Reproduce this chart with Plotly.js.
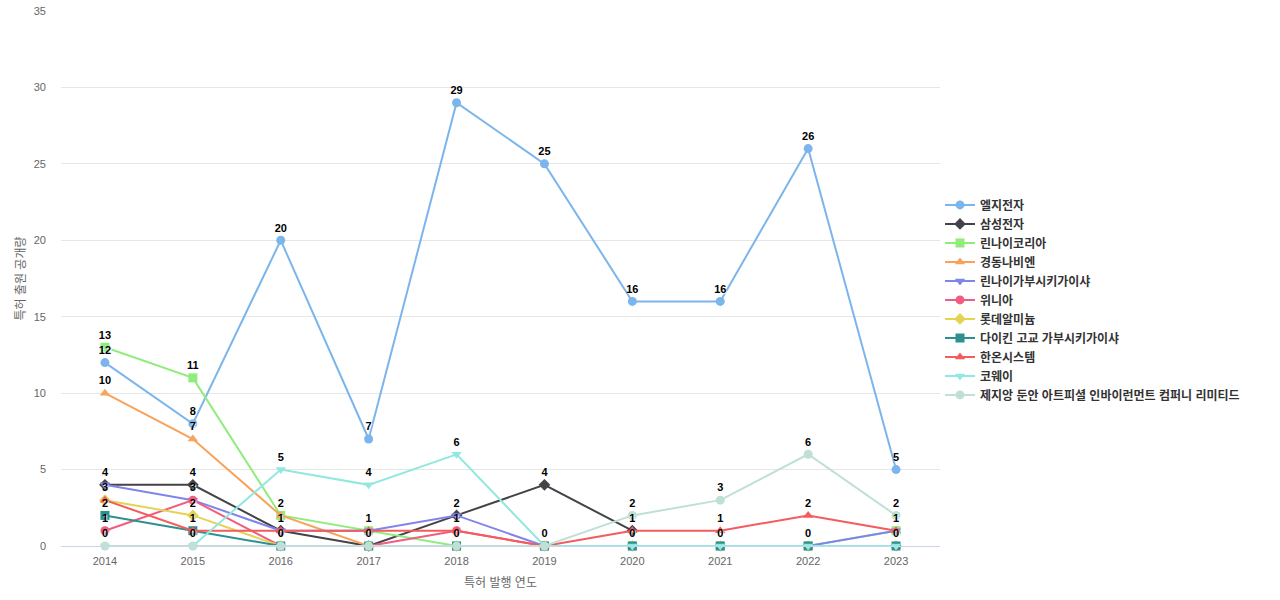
<!DOCTYPE html>
<html>
<head>
<meta charset="utf-8">
<script src="https://cdn.plot.ly/plotly-3.0.1.min.js"></script>
<style>
  html, body { margin: 0; padding: 0; background: #fff; }
  #chart { width: 1280px; height: 600px; }
</style>
</head>
<body>
<div id="chart"></div>
<script>
const years = ["2014", "2015", "2016", "2017", "2018", "2019", "2020", "2021", "2022", "2023"];

const lgElec      = [12, 8, 20, 7, 29, 25, 16, 16, 26, 5];
const samsung     = [4, 4, 1, 0, 2, 4, 1, null, null, null];
const rinnaiKorea = [13, 11, 2, 1, 0, 0, 0, 0, 0, 1];
const kdNavien    = [10, 7, 2, 0, 0, 0, 0, 0, 0, 0];
const rinnaiJp    = [4, 3, 1, 1, 2, 0, 0, 0, 0, 1];
const winia       = [1, 3, 0, 0, 1, 0, 0, 0, 0, 0];
const lotteAlu    = [3, 2, 0, 0, 0, 0, 0, 0, 0, 0];
const daikin      = [2, 1, 0, 0, 0, 0, 0, 0, 0, 0];
const hanon       = [3, 1, 1, 1, 1, 0, 1, 1, 2, 1];
const coway       = [0, 0, 5, 4, 6, 0, 0, 0, 0, 0];
const zhejiang    = [0, 0, 0, 0, 0, 0, 2, 3, 6, 2];

const seriesNames = ["엘지전자", "삼성전자", "린나이코리아", "경동나비엔", "린나이가부시키가이샤",
    "위니아", "롯데알미늄", "다이킨 고교 가부시키가이샤", "한온시스템", "코웨이",
    "제지앙 둔안 아트피셜 인바이런먼트 컴퍼니 리미티드"];
const seriesData = [lgElec, samsung, rinnaiKorea, kdNavien, rinnaiJp, winia, lotteAlu, daikin, hanon, coway, zhejiang];

const colors = ["#7cb5ec", "#434348", "#90ed7d", "#f7a35c", "#8085e9", "#f15c80",
    "#e4d354", "#2b908f", "#f45b5b", "#91e8e1", "#bfe0d4"];
const symbols = ["circle", "diamond", "square", "triangle-up", "triangle-down"];

const FONT = "'Liberation Sans', Arial, 'Noto Sans CJK KR', sans-serif";

const lineTraces = seriesNames.map((name, i) => ({
    type: "scatter",
    mode: "lines+markers",
    name: name,
    x: years,
    y: seriesData[i],
    line: { color: colors[i], width: 2 },
    marker: { color: colors[i], symbol: symbols[i % symbols.length], size: 9 },
    cliponaxis: false,
    hoverinfo: "x+y+name"
}));

// value labels go in their own traces, after every line, so no later line covers them.
// one label per (year, value): stacked copies of the same number look heavier than the original
const seen = {};
const labelTraces = seriesNames.map((name, i) => {
    const vals = seriesData[i];
    const labels = vals.map((v, j) => {
        if (v === null) return "";
        const key = j + ":" + v;
        if (seen[key]) return "";
        seen[key] = true;
        return String(v);
    });
    return {
        type: "scatter",
        mode: "markers+text",
        name: name,
        x: years,
        y: vals,
        text: labels,
        textposition: "top center",
        textfont: { family: FONT, size: 11, color: "#000", weight: "bold", shadow: "1px 1px 1px #fff" },
        marker: { size: 8, opacity: 0 },
        cliponaxis: false,
        showlegend: false,
        hoverinfo: "skip"
    };
});

const layout = {
    width: 1280,
    height: 600,
    margin: { l: 61, r: 340, t: 11, b: 54 },
    paper_bgcolor: "#fff",
    plot_bgcolor: "#fff",
    font: { family: FONT, color: "#666" },
    showlegend: true,
    legend: {
        x: 1.0,
        xanchor: "left",
        y: 0.46,
        yanchor: "middle",
        font: { family: FONT, size: 12, color: "#333", weight: "bold" },
        itemwidth: 30,
        tracegroupgap: 0
    },
    xaxis: {
        type: "category",
        range: [-0.5, 9.5],
        showgrid: false,
        showline: true,
        linecolor: "#ccd6eb",
        linewidth: 1,
        ticks: "",
        ticklabelstandoff: 5,
        tickfont: { family: FONT, size: 11, color: "#666" },
        title: { text: "특허 발행 연도", font: { family: FONT, size: 12, color: "#666" }, standoff: 12 }
    },
    yaxis: {
        range: [0, 35],
        dtick: 5,
        showgrid: true,
        gridcolor: "#e6e6e6",
        zeroline: false,
        showline: false,
        ticks: "",
        ticklabelstandoff: 14,
        tickfont: { family: FONT, size: 11, color: "#666" },
        title: { text: "특허 출원 공개량", font: { family: FONT, size: 12, color: "#666" }, standoff: 5 }
    }
};

Plotly.newPlot("chart", lineTraces.concat(labelTraces), layout, { displayModeBar: false, responsive: false });
</script>
</body>
</html>
